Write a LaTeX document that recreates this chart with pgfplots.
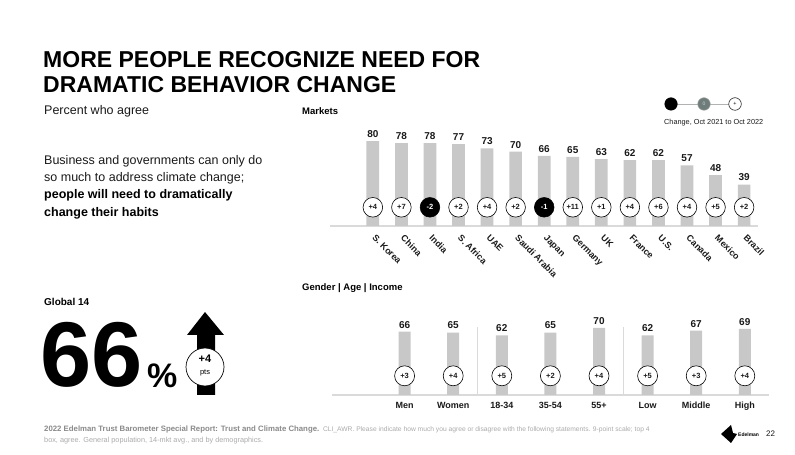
\documentclass[border=0pt]{standalone}
\usepackage{pgfplots}
\pgfplotsset{compat=1.18}
\usepackage{pgfplotstable}
\usepackage{fontspec}
\setmainfont{Liberation Sans}
\definecolor{barg}{HTML}{C8C8C8}
\definecolor{lineg}{HTML}{DADADA}
\definecolor{txt}{HTML}{1A1A1A}
\definecolor{foot1}{HTML}{8A8A8A}
\definecolor{foot2}{HTML}{ABABAB}
\definecolor{zerog}{HTML}{6E7C7A}

\pgfplotstableread{
x v
0 80
1 78
2 78
3 77
4 73
5 70
6 66
7 65
8 63
9 62
10 62
11 57
12 48
13 39
}\marketbars

\pgfplotstableread{
x cy c
0 17.6 +4
1 17.6 +7
3 17.6 +2
4 17.6 +4
5 17.6 +2
7 17.6 +11
8 17.6 +1
9 17.6 +4
10 17.6 +6
11 17.6 +4
12 17.6 +5
13 17.6 +2
}\marketup

\pgfplotstableread{
x cy c
2 17.6 -2
6 17.6 -1
}\marketdown

\pgfplotstableread{
x v
0 66
1 65
2 62
3 65
4 70
5 62
6 67
7 69
}\demobars

\pgfplotstableread{
x cy c
0 20 +3
1 20 +4
2 20 +5
3 20 +2
4 20 +4
5 20 +5
6 20 +3
7 20 +4
}\demoup

\begin{document}
\begin{tikzpicture}[x=1pt,y=1pt]
\useasboundingbox (0,0) rectangle (795,455);
\fill[white] (0,0) rectangle (795,455);

% Title and left texts
\node[anchor=base west, inner sep=0, font=\bfseries\fontsize{23}{27}\selectfont] at (43,387) {MORE PEOPLE RECOGNIZE NEED FOR};
\node[anchor=base west, inner sep=0, font=\bfseries\fontsize{23}{27}\selectfont] at (43,362) {DRAMATIC BEHAVIOR CHANGE};
\node[anchor=base west, inner sep=0, text=txt, font=\fontsize{12.5}{15}\selectfont] at (44,340) {Percent who agree};
\node[anchor=base west, inner sep=0, text=txt, font=\fontsize{12.5}{15}\selectfont] at (44,290.5) {Business and governments can only do};
\node[anchor=base west, inner sep=0, text=txt, font=\fontsize{12.5}{15}\selectfont] at (44,273.5) {so much to address climate change;};
\node[anchor=base west, inner sep=0, text=black, font=\bfseries\fontsize{12.5}{15}\selectfont] at (44,256.5) {people will need to dramatically};
\node[anchor=base west, inner sep=0, text=black, font=\bfseries\fontsize{12.5}{15}\selectfont] at (44,238.5) {change their habits};

\node[anchor=base west, inner sep=0, font=\bfseries\fontsize{9.5}{11}\selectfont] at (302,340.5) {Markets};
\node[anchor=base west, inner sep=0, font=\bfseries\fontsize{9.5}{11}\selectfont] at (302,164.5) {Gender | Age | Income};

% Global 14
\node[anchor=base west, inner sep=0, font=\bfseries\fontsize{10}{12}\selectfont] at (44,149) {Global 14};
\node[anchor=base west, inner sep=0, font=\bfseries\fontsize{92}{100}\selectfont] at (40,68) {66};
\node[anchor=base west, inner sep=0, font=\bfseries\fontsize{34}{40}\selectfont] at (147,67) {\%};
\fill[black] (205,143) -- (224,120) -- (215,120) -- (215,60) -- (197,60) -- (197,120) -- (187,120) -- cycle;
\draw[black, fill=white, line width=0.7pt] (205,88) circle (19);
\node[inner sep=0, font=\bfseries\fontsize{11}{12}\selectfont] at (205,96) {+4};
\node[inner sep=0, font=\fontsize{7.5}{9}\selectfont] at (205,82) {pts};

% Legend
\draw[gray!60, line width=0.8pt] (671,351) -- (735,351);
\draw[black, fill=black] (671,351) circle (6.3);
\draw[gray!70, fill=zerog, line width=0.5pt] (704,351) circle (6.3);
\node[inner sep=0, text=gray!35, font=\fontsize{5}{6}\selectfont] at (704,351) {0};
\draw[black, fill=white, line width=0.5pt] (735,351) circle (6.3);
\node[inner sep=0, font=\fontsize{5.5}{6}\selectfont] at (735,351.3) {+};
\node[anchor=base west, inner sep=0, text=txt, font=\fontsize{7.3}{9}\selectfont] at (664,330) {Change, Oct 2021 to Oct 2022};

% Markets chart
\begin{axis}[at={(330pt,229pt)}, anchor=south west, scale only axis,
  width=428.4pt, height=95.6pt, xmin=-1.5, xmax=13.5, ymin=0, ymax=90,
  axis x line=bottom, axis y line=none, ytick=\empty,
  x axis line style={draw=lineg, line width=1.5pt, -},
  xtick={0,...,13},
  xticklabels={S. Korea, China, India, S. Africa, UAE, Saudi Arabia, Japan, Germany, UK, France, U.S., Canada, Mexico, Brazil},
  major tick length=0pt,
  xticklabel style={xshift=3.5pt, yshift=-8pt, rotate=-45, anchor=north west, inner sep=0pt, font=\bfseries\fontsize{9}{10}\selectfont, text=txt},
  clip=false, /pgf/number format/assume math mode=true]
\addplot[ybar, bar width=12.7pt, fill=barg, draw=none, nodes near coords,
  every node near coord/.append style={font=\bfseries\fontsize{10}{12}\selectfont, text=txt}]
  table[x=x, y=v]{\marketbars};
\addplot[only marks, mark=*, mark size=9.8pt, mark options={draw=black, fill=white, line width=0.6pt},
  point meta=explicit symbolic, nodes near coords,
  every node near coord/.append style={anchor=center, font=\bfseries\fontsize{7.5}{8}\selectfont, text=txt}]
  table[x=x, y=cy, meta=c]{\marketup};
\addplot[only marks, mark=*, mark size=9.8pt, mark options={draw=black, fill=black, line width=0.6pt},
  point meta=explicit symbolic, nodes near coords,
  every node near coord/.append style={anchor=center, font=\bfseries\fontsize{7.5}{8}\selectfont, text=white}]
  table[x=x, y=cy, meta=c]{\marketdown};
\end{axis}

% Demographics chart
\begin{axis}[at={(331.7pt,60pt)}, anchor=south west, scale only axis,
  width=437.4pt, height=76.8pt, xmin=-1.5, xmax=7.5, ymin=0, ymax=80,
  axis x line=bottom, axis y line=none, ytick=\empty,
  x axis line style={draw=lineg, line width=1.5pt, -},
  xtick={0,...,7},
  xticklabels={Men, Women, 18-34, 35-54, 55+, Low, Middle, High},
  major tick length=0pt,
  xticklabel style={anchor=north, inner sep=0pt, yshift=-7pt, font=\bfseries\fontsize{9}{10}\selectfont, text=txt},
  clip=false, /pgf/number format/assume math mode=true]
\draw[lineg, line width=0.8pt] (axis cs:1.5,0) -- (axis cs:1.5,71);
\draw[lineg, line width=0.8pt] (axis cs:4.5,0) -- (axis cs:4.5,71);
\addplot[ybar, bar width=12pt, fill=barg, draw=none, nodes near coords,
  every node near coord/.append style={font=\bfseries\fontsize{10}{12}\selectfont, text=txt}]
  table[x=x, y=v]{\demobars};
\addplot[only marks, mark=*, mark size=10pt, mark options={draw=black, fill=white, line width=0.6pt},
  point meta=explicit symbolic, nodes near coords,
  every node near coord/.append style={anchor=center, font=\bfseries\fontsize{7.5}{8}\selectfont, text=txt}]
  table[x=x, y=cy, meta=c]{\demoup};
\end{axis}

% Footer
\node[anchor=base west, inner sep=0] at (44,23) {\textcolor{foot1}{\bfseries\fontsize{7.8}{9}\selectfont 2022 Edelman Trust Barometer Special Report: Trust and Climate Change.} \textcolor{foot2}{\fontsize{6.7}{9}\selectfont CLI\_AWR. Please indicate how much you agree or disagree with the following statements. 9-point scale; top 4}};
\node[anchor=base west, inner sep=0, text=foot2, font=\fontsize{7.3}{9}\selectfont] at (44,12) {box, agree. General population, 14-mkt avg., and by demographics.};
\fill[black] (721,21) -- (731,30) -- (733,22) -- (737,21) -- (731,12) -- cycle;
\node[anchor=base west, inner sep=0, font=\bfseries\fontsize{5}{6}\selectfont] at (738,18.5) {Edelman};
\node[anchor=base west, inner sep=0, text=txt, font=\fontsize{8}{9}\selectfont] at (766,18) {22};
\end{tikzpicture}
\end{document}
